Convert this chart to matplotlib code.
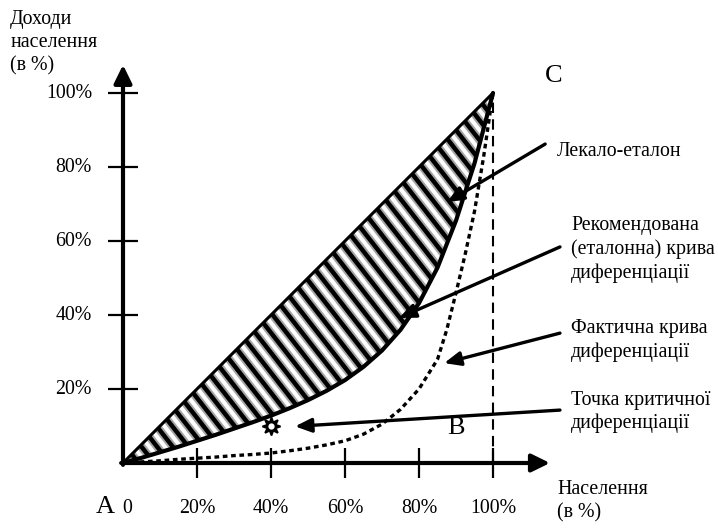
import numpy as np
import matplotlib
matplotlib.use("Agg")
import matplotlib.pyplot as plt

plt.rcParams["font.family"] = ["Liberation Serif", "DejaVu Serif"]

# -------------------------------------------------
# Data (percent of population / percent of income)
# -------------------------------------------------
tick_values = [20, 40, 60, 80, 100]
x_tick_labels = ["0", "20%", "40%", "60%", "80%", "100%"]
y_tick_labels = ["20%", "40%", "60%", "80%", "100%"]

# recommended (reference) Lorenz curve - "лекало-еталон"
lekalo_x = [0, 5, 10, 15, 20, 25, 30, 35, 40, 45, 50, 55, 60, 65, 70, 75, 80, 85, 90, 95, 100]
lekalo_y = [0, 1.4, 2.9, 4.4, 6, 7.6, 9.3, 11.0, 12.8, 14.8, 17, 19.5, 22.4, 26.0, 30.4, 36.0, 43.2, 52.8, 65.5, 81, 100]

# actual differentiation curve
fact_x = [0, 5, 10, 15, 20, 25, 30, 35, 40, 45, 50, 55, 60, 65, 70, 75, 80, 85, 87.5, 90, 92.5, 95, 97.5, 100]
fact_y = [0, 0.3, 0.6, 1.0, 1.3, 1.6, 2.0, 2.3, 2.7, 3.3, 4.0, 4.9, 6.0, 7.8, 10.5, 14.5, 20, 28, 36, 46, 56.5, 68, 83, 100]

# point of critical differentiation
crit_x = [40]
crit_y = [9.9]

# -------------------------------------------------
# Figure: axes span the whole canvas, units are percent
# -------------------------------------------------
PX = 3.7  # pixels per percent
fig = plt.figure(figsize=(7.18, 5.28), dpi=100)
ax = fig.add_axes([0, 0, 1, 1])
ax.set_xlim(-123 / PX, (718 - 123) / PX)
ax.set_ylim(-(528 - 463) / PX, 463 / PX)
ax.axis("off")

FS = 14.3

# band between equality line and reference curve, filled with stripes
diag = np.array(lekalo_x, dtype=float)
band = ax.fill_between(lekalo_x, diag, lekalo_y, facecolor="white", linewidth=0, zorder=1)
band_path = band.get_paths()[0]

ang = np.deg2rad(52)
direction = np.array([np.cos(ang), -np.sin(ang)])
normal = np.array([np.sin(ang), np.cos(ang)])
spacing = 12.3 / PX
for k in range(-10, 60):
    c = k * spacing * normal
    p0, p1 = c - 200 * direction, c + 200 * direction
    for lw, col in [(6.0, "0.65"), (3.2, "black")]:
        ln, = ax.plot([p0[0], p1[0]], [p0[1], p1[1]], color=col, lw=lw,
                      solid_capstyle="butt", zorder=2)
        ln.set_clip_path(band_path, ax.transData)

# equality line A-C
ax.plot([0, 100], [0, 100], color="black", lw=2.2, zorder=3)
# reference curve
ax.plot(lekalo_x, lekalo_y, color="black", lw=3, zorder=3, solid_capstyle="round")
# actual curve
ax.plot(fact_x, fact_y, color="black", lw=2.4, linestyle=(0, (1.4, 1.1)), zorder=3)
# vertical dashed line at 100%
ax.plot([100, 100], [0, 100], color="black", lw=1.5, linestyle=(0, (5, 3)), zorder=2)

# axes with arrows
arrow_axis = dict(arrowstyle="-|>,head_length=0.55,head_width=0.27", lw=3,
                  color="black", shrinkA=0, shrinkB=0, mutation_scale=20)
ax.annotate("", xy=(0, 107.6), xytext=(0, -0.5), arrowprops=arrow_axis, zorder=4)
ax.annotate("", xy=(115.4, 0), xytext=(-0.5, 0), arrowprops=arrow_axis, zorder=4)

# tick marks
ax.plot([0] * len(tick_values), tick_values, linestyle="none", marker="_",
        markersize=21, mew=1.6, color="black", zorder=4)
ax.plot(tick_values, [0] * len(tick_values), linestyle="none", marker="|",
        markersize=21, mew=1.6, color="black", zorder=4)

# tick labels
for v, lab in zip([0] + tick_values, x_tick_labels):
    ax.text(v + (1 if v == 0 else 0), -12.2, lab, ha="center", va="center", fontsize=FS)
for v, lab in zip(tick_values, y_tick_labels):
    ax.text(-8.4, v, lab, ha="right", va="center", fontsize=FS)

# critical point marker
ax.plot(crit_x, crit_y, linestyle="none", marker=(8, 1, 0), markersize=13,
        mew=1.3, color="black", zorder=5)
ax.plot(crit_x, crit_y, linestyle="none", marker="o", markersize=4.5,
        mew=0, color="white", zorder=6)

# letters
ax.text(-2.2, -11.9, "A", ha="right", va="center", fontsize=19)
ax.text(90, 9.5, "B", ha="center", va="center", fontsize=19)
ax.text(116.5, 104.6, "C", ha="center", va="center", fontsize=19)

# axis titles
ax.text(-30.5, 113.6, "Доходи\nнаселення\n(в %)", ha="left", va="center",
        fontsize=FS, linespacing=1.3)
ax.text(117.3, -10.4, "Населення\n(в %)", ha="left", va="center",
        fontsize=FS, linespacing=1.3)

# annotations with arrows
arrow_note = dict(arrowstyle="-|>,head_length=0.7,head_width=0.3", lw=2.4,
                  color="black", shrinkA=0, shrinkB=0, mutation_scale=14)
notes = [
    ("Лекало-еталон", (117.3, 84.3), (114.1, 86.2), (87.6, 70.5)),
    ("Рекомендована\n(еталонна) крива\nдиференціації", (121.1, 57.8), (118.1, 58.4), (74.6, 39.2)),
    ("Фактична крива\nдиференціації", (121.1, 33.2), (118.1, 35.1), (86.8, 27.0)),
    ("Точка критичної\nдиференціації", (121.1, 13.8), (118.1, 14.3), (46.5, 9.9)),
]
for text, pos, tail, tip in notes:
    ax.text(pos[0], pos[1], text, ha="left", va="center", fontsize=FS, linespacing=1.3)
    ax.annotate("", xy=tip, xytext=tail, arrowprops=arrow_note, zorder=6)

fig.savefig("out.png", dpi=100)
